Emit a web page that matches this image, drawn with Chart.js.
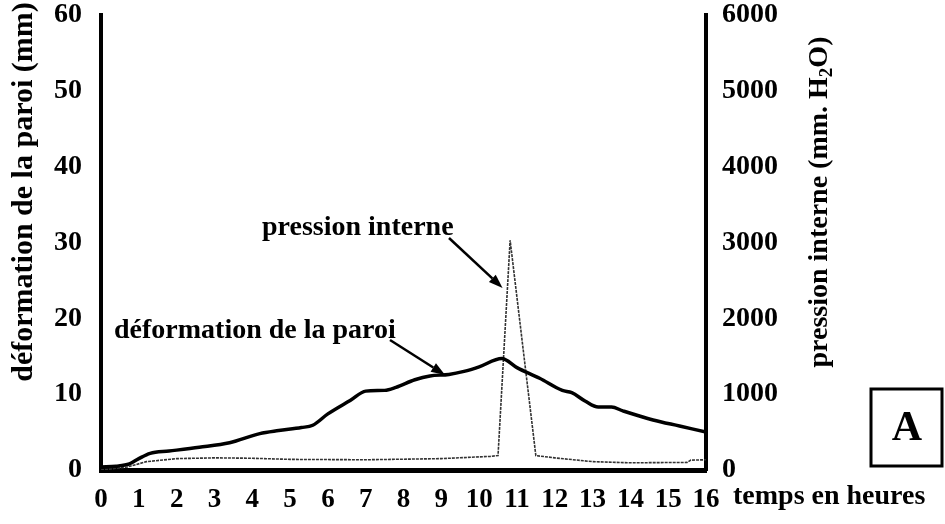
<!DOCTYPE html>
<html lang="fr">
<head>
<meta charset="utf-8">
<title>Déformation de la paroi et pression interne</title>
<script src="https://cdn.jsdelivr.net/npm/chart.js@4.4.1/dist/chart.umd.min.js"></script>
<style>
  html, body { margin: 0; padding: 0; background: #fff; }
  #wrap { position: relative; width: 945px; height: 524px; }
</style>
</head>
<body>
<div id="wrap"><canvas id="paroiChart" width="945" height="524"></canvas></div>
<script>
// Déformation de la paroi (mm) en fonction du temps (heures)
const deformHours = [0, 0.4, 0.75, 1.0, 1.3, 1.8, 2.6, 3.4, 4.2, 4.7, 5.3, 5.6, 6.0, 6.6, 7.0, 7.5, 7.8, 8.3, 8.7, 9.2, 9.6, 10.0, 10.6, 11.0, 11.6, 12.2, 12.45, 12.8, 13.15, 13.5, 13.8, 14.6, 15.3, 16.0];
const deformMm = [0.4, 0.5, 0.8, 1.5, 2.2, 2.5, 3.0, 3.6, 4.8, 5.2, 5.6, 5.9, 7.4, 9.2, 10.4, 10.5, 10.9, 11.9, 12.4, 12.6, 13.0, 13.6, 14.7, 13.5, 12.1, 10.5, 10.2, 9.1, 8.3, 8.3, 7.8, 6.6, 5.8, 5.0];

// Pression interne (mm H2O)
const pressHours = [0, 0.7, 1.2, 2.0, 3.0, 4.0, 5.0, 7.0, 9.0, 10.3, 10.5, 10.82, 11.5, 12.0, 13.0, 14.0, 15.5, 15.6, 16.0];
const pressMmH2O = [0, 40, 110, 150, 160, 155, 140, 135, 150, 180, 190, 3030, 190, 160, 110, 95, 100, 130, 135];

// Graduations
const hourTicks = [0, 1, 2, 3, 4, 5, 6, 7, 8, 9, 10, 11, 12, 13, 14, 15, 16];
const deformTicks = [0, 10, 20, 30, 40, 50, 60];
const pressTicks = [0, 1000, 2000, 3000, 4000, 5000, 6000];

const FONT = '"Liberation Serif", "Times New Roman", serif';
Chart.defaults.font.family = FONT;
Chart.defaults.font.weight = 'bold';
Chart.defaults.color = '#000';

function toPoints(xs, ys) {
    return xs.map((x, i) => ({ x: x, y: ys[i] }));
}

// arrow with filled head, from (x1,y1) to tip (x2,y2)
function arrow(ctx, x1, y1, x2, y2) {
    const a = Math.atan2(y2 - y1, x2 - x1);
    const len = 14, half = 5;
    ctx.beginPath();
    ctx.moveTo(x1, y1);
    ctx.lineTo(x2 - Math.cos(a) * len, y2 - Math.sin(a) * len);
    ctx.stroke();
    ctx.beginPath();
    ctx.moveTo(x2, y2);
    ctx.lineTo(x2 - Math.cos(a) * len + Math.sin(a) * half, y2 - Math.sin(a) * len - Math.cos(a) * half);
    ctx.lineTo(x2 - Math.cos(a) * len - Math.sin(a) * half, y2 - Math.sin(a) * len + Math.cos(a) * half);
    ctx.closePath();
    ctx.fill();
}

// keep the plot area fixed: no extra room for half tick labels
function fixVertical(width) {
    return (s) => {
        s.width = width;
        s.paddingTop = 0;
        s.paddingBottom = 0;
    };
}

// titles, labels with arrows and the "A" panel box
const annotations = {
    id: 'annotations',
    afterDraw(chart) {
        const ctx = chart.ctx;
        const xs = chart.scales.x;
        const yl = chart.scales.yDeform;
        const yr = chart.scales.yPress;
        ctx.save();
        ctx.fillStyle = '#000';
        ctx.strokeStyle = '#000';

        // left axis title
        ctx.save();
        ctx.font = 'bold 30px ' + FONT;
        ctx.translate(24, 192);
        ctx.rotate(-Math.PI / 2);
        ctx.textAlign = 'center';
        ctx.textBaseline = 'middle';
        ctx.fillText('déformation de la paroi (mm)', 0, 0);
        ctx.restore();

        // right axis title with subscript
        ctx.save();
        ctx.translate(820, 202);
        ctx.rotate(-Math.PI / 2);
        ctx.textBaseline = 'middle';
        const main = 'pression interne (mm. H';
        const sub = '2';
        const tail = 'O)';
        ctx.font = 'bold 28px ' + FONT;
        const wMain = ctx.measureText(main).width;
        const wTail = ctx.measureText(tail).width;
        ctx.font = 'bold 19px ' + FONT;
        const wSub = ctx.measureText(sub).width;
        let x = -(wMain + wSub + wTail) / 2;
        ctx.font = 'bold 28px ' + FONT;
        ctx.fillText(main, x, 0);
        x += wMain;
        ctx.font = 'bold 19px ' + FONT;
        ctx.fillText(sub, x, 7);
        x += wSub;
        ctx.font = 'bold 28px ' + FONT;
        ctx.fillText(tail, x, 0);
        ctx.restore();

        ctx.font = 'bold 28px ' + FONT;

        // x axis title next to the last tick
        ctx.textBaseline = 'middle';
        ctx.textAlign = 'left';
        ctx.fillText('temps en heures', 733, 497);

        // series labels
        ctx.textBaseline = 'alphabetic';
        ctx.fillText('pression interne', 262, 235);
        ctx.fillText('déformation de la paroi', 114, 338);

        ctx.lineWidth = 2.5;
        arrow(ctx, 449, 238, xs.getPixelForValue(10.62), yr.getPixelForValue(2400));
        arrow(ctx, 390, 340, xs.getPixelForValue(9.1), yl.getPixelForValue(12.4) - 1);

        // panel box
        ctx.lineWidth = 3;
        ctx.strokeRect(871, 389, 71, 77);
        ctx.font = 'bold 42px ' + FONT;
        ctx.textAlign = 'center';
        ctx.textBaseline = 'middle';
        ctx.fillText('A', 907, 429);
        ctx.restore();
    }
};

const ctx = document.getElementById('paroiChart').getContext('2d');
new Chart(ctx, {
    type: 'line',
    data: {
        datasets: [
            {
                label: 'déformation de la paroi',
                data: toPoints(deformHours, deformMm),
                yAxisID: 'yDeform',
                borderColor: '#000',
                borderWidth: 3.5,
                pointRadius: 0,
                cubicInterpolationMode: 'monotone',
                fill: false,
            },
            {
                label: 'pression interne',
                data: toPoints(pressHours, pressMmH2O),
                yAxisID: 'yPress',
                borderColor: '#333',
                borderWidth: 1.6,
                borderDash: [3, 1],
                pointRadius: 0,
                tension: 0,
                fill: false,
            }
        ]
    },
    options: {
        responsive: false,
        animation: false,
        layout: { padding: { top: 15, left: 0, right: 0, bottom: 0 } },
        plugins: {
            legend: { display: false },
            tooltip: { enabled: false }
        },
        scales: {
            x: {
                type: 'linear',
                min: 0,
                max: 16,
                afterFit: (s) => { s.height = 54; s.paddingLeft = 0; s.paddingRight = 0; },
                afterBuildTicks: (s) => { s.ticks = hourTicks.map(v => ({ value: v })); },
                grid: { display: false, drawTicks: false },
                border: { display: true, color: '#000', width: 5 },
                ticks: { autoSkip: false, maxRotation: 0, padding: 14, font: { size: 27 }, callback: v => String(v) }
            },
            yDeform: {
                position: 'left',
                min: 0,
                max: 60,
                afterFit: fixVertical(101),
                afterBuildTicks: (s) => { s.ticks = deformTicks.map(v => ({ value: v })); },
                grid: { display: false, drawTicks: false },
                border: { display: true, color: '#000', width: 4 },
                ticks: { padding: 19, font: { size: 28 }, callback: v => String(v) }
            },
            yPress: {
                position: 'right',
                min: 0,
                max: 6000,
                afterFit: fixVertical(239),
                afterBuildTicks: (s) => { s.ticks = pressTicks.map(v => ({ value: v })); },
                grid: { display: false, drawTicks: false },
                border: { display: true, color: '#000', width: 4 },
                ticks: { padding: 16, font: { size: 28 }, callback: v => String(v) }
            }
        }
    },
    plugins: [annotations]
});
</script>
</body>
</html>
